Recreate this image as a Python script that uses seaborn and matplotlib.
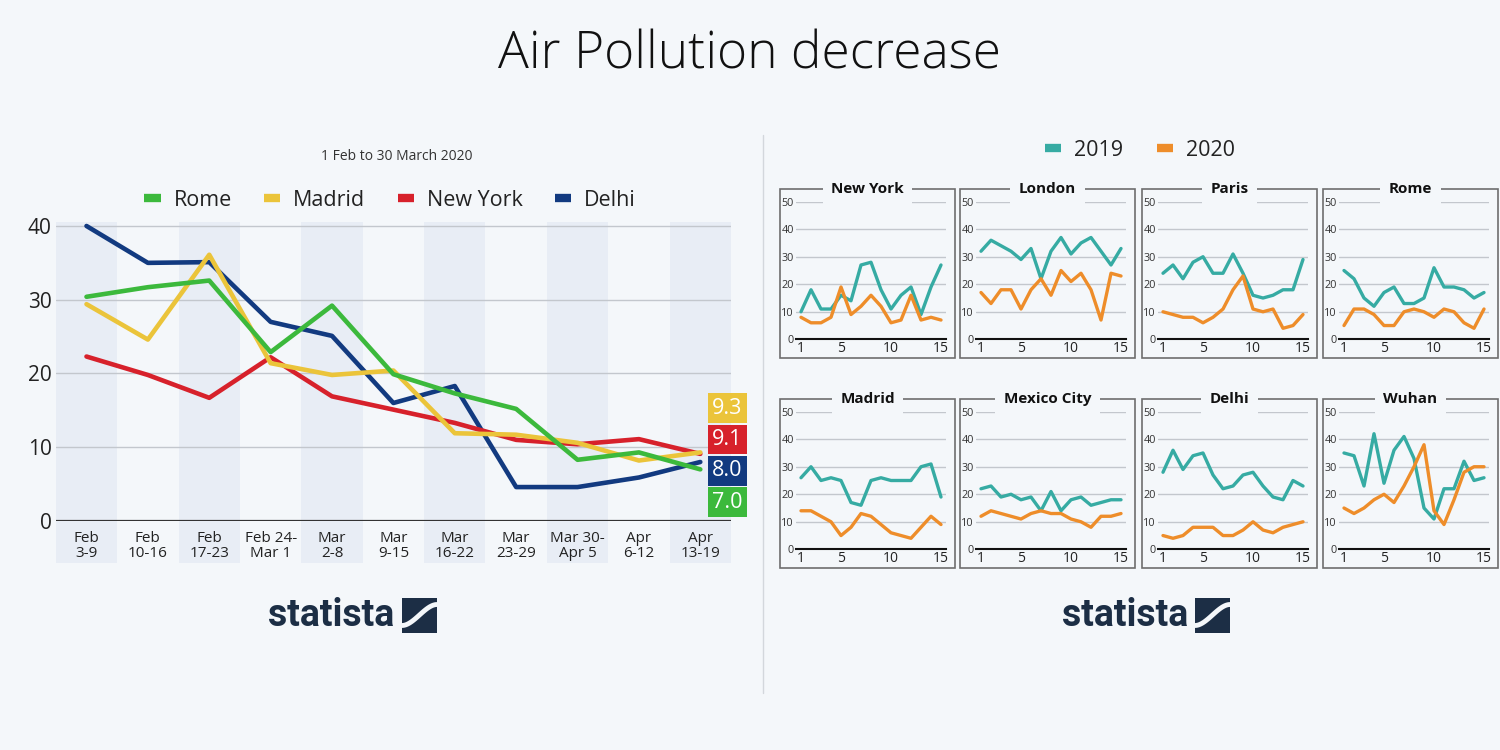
import matplotlib.pyplot as plt
import matplotlib.patches as mpatches
from matplotlib.lines import Line2D
import seaborn as sns
import pandas as pd
import numpy as np

# ---- left chart: weekly values ----
weeks = ["Feb\n3-9", "Feb\n10-16", "Feb\n17-23", "Feb 24-\nMar 1", "Mar\n2-8", "Mar\n9-15",
         "Mar\n16-22", "Mar\n23-29", "Mar 30-\nApr 5", "Apr\n6-12", "Apr\n13-19"]
rome = [30.4, 31.7, 32.6, 22.9, 29.2, 19.9, 17.3, 15.2, 8.3, 9.3, 7.0]
madrid = [29.4, 24.6, 36.1, 21.4, 19.8, 20.4, 11.9, 11.7, 10.6, 8.2, 9.3]
new_york = [22.3, 19.8, 16.7, 22.2, 16.9, 15.1, 13.3, 11.0, 10.4, 11.1, 9.1]
delhi = [40.0, 35.0, 35.1, 27.0, 25.1, 16.0, 18.3, 4.6, 4.6, 5.9, 8.0]
left_names = ["Rome", "Madrid", "New York", "Delhi"]

# ---- right panels: daily values, 2019 vs 2020 ----
days = list(range(1, 16))
panel_names = ["New York", "London", "Paris", "Rome", "Madrid", "Mexico City", "Delhi", "Wuhan"]
ny_2019 = [10, 18, 11, 11, 16, 14, 27, 28, 18, 11, 16, 19, 9, 19, 27]
ny_2020 = [8, 6, 6, 8, 19, 9, 12, 16, 12, 6, 7, 16, 7, 8, 7]
london_2019 = [32, 36, 34, 32, 29, 33, 22, 32, 37, 31, 35, 37, 32, 27, 33]
london_2020 = [17, 13, 18, 18, 11, 18, 22, 16, 25, 21, 24, 18, 7, 24, 23]
paris_2019 = [24, 27, 22, 28, 30, 24, 24, 31, 24, 16, 15, 16, 18, 18, 29]
paris_2020 = [10, 9, 8, 8, 6, 8, 11, 18, 23, 11, 10, 11, 4, 5, 9]
rome_2019 = [25, 22, 15, 12, 17, 19, 13, 13, 15, 26, 19, 19, 18, 15, 17]
rome_2020 = [5, 11, 11, 9, 5, 5, 10, 11, 10, 8, 11, 10, 6, 4, 11]
madrid_2019 = [26, 30, 25, 26, 25, 17, 16, 25, 26, 25, 25, 25, 30, 31, 19]
madrid_2020 = [14, 14, 12, 10, 5, 8, 13, 12, 9, 6, 5, 4, 8, 12, 9]
mexico_2019 = [22, 23, 19, 20, 18, 19, 14, 21, 14, 18, 19, 16, 17, 18, 18]
mexico_2020 = [12, 14, 13, 12, 11, 13, 14, 13, 13, 11, 10, 8, 12, 12, 13]
delhi_2019 = [28, 36, 29, 34, 35, 27, 22, 23, 27, 28, 23, 19, 18, 25, 23]
delhi_2020 = [5, 4, 5, 8, 8, 8, 5, 5, 7, 10, 7, 6, 8, 9, 10]
wuhan_2019 = [35, 34, 23, 42, 24, 36, 41, 33, 15, 11, 22, 22, 32, 25, 26]
wuhan_2020 = [15, 13, 15, 18, 20, 17, 23, 30, 38, 14, 9, 18, 28, 30, 30]

BG = "#f4f7fa"
BAND = "#e8edf5"
NAVY = "#1c2e45"
city_colors = {"Rome": "#3cb93c", "Madrid": "#ebc43a", "New York": "#d7212b", "Delhi": "#123a80"}
year_colors = {"2019": "#36aba3", "2020": "#ee8d2a"}

sns.set_theme(style="white")
plt.rcParams["font.family"] = ["Open Sans", "DejaVu Sans"]
plt.rcParams["lines.solid_joinstyle"] = "round"
plt.rcParams["lines.solid_capstyle"] = "round"

W, H = 1500, 750
fig = plt.figure(figsize=(15, 7.5), dpi=100, facecolor=BG)


def fig_rect(x0, y_top, w, h):
    # pixel box (top-left origin) -> figure fraction rect
    return [x0 / W, 1 - (y_top + h) / H, w / W, h / H]


fig.text(0.5, 1 - 55 / H, "Air Pollution decrease", ha="center", va="center",
         fontsize=37, fontweight="light", color="#111111")

# ---------------- left chart ----------------
left_df = pd.DataFrame(
    [(name, i, v) for name, vals in zip(left_names, [rome, madrid, new_york, delhi])
     for i, v in enumerate(vals)],
    columns=["city", "week", "value"])

ax = fig.add_axes(fig_rect(55.8, 222, 675.2, 299))
ax.set_facecolor(BG)
ax.set_xlim(-0.5, len(weeks) - 0.5)
ax.set_ylim(0, 40.54)
for i in range(0, len(weeks), 2):
    ax.axvspan(i - 0.5, i + 0.5, ymin=-0.1405, ymax=1, color=BAND, lw=0, zorder=0, clip_on=False)
ax.set_yticks([0, 10, 20, 30, 40])
ax.grid(axis="y", color="#c3c7cd", lw=1)
ax.grid(axis="x", visible=False)
ax.axhline(0, color="#333333", lw=1.6, zorder=2)
sns.despine(ax=ax, left=True, bottom=True)

sns.lineplot(data=left_df, x="week", y="value", hue="city",
             hue_order=["Delhi", "New York", "Madrid", "Rome"], palette=city_colors,
             linewidth=3.3, legend=False, ax=ax, zorder=3)
ax.set_xlabel("")
ax.set_ylabel("")
ax.set_xticks(range(len(weeks)))
ax.set_xticklabels(weeks, fontsize=11, linespacing=1.05, color="#222222")
ax.tick_params(axis="x", length=0, pad=7)
ax.tick_params(axis="y", length=0, pad=3, labelsize=15, labelcolor="#222222")

# end-value tags, stacked from highest to lowest
last = sorted([(vals[-1], name) for name, vals in
               zip(left_names, [rome, madrid, new_york, delhi])], reverse=True)
tag_top, tag_step = 15.3, 4.25
for k, (v, name) in enumerate(last):
    ax.text(len(weeks) - 0.56, tag_top - k * tag_step, f"{v:.1f}", color="white",
            fontsize=15.5, ha="center", va="center", clip_on=False, zorder=5,
            bbox=dict(boxstyle="square,pad=0.2", fc=city_colors[name], ec="none"))

fig.text(397 / W, 1 - 157 / H, "1 Feb to 30 March 2020", ha="center", va="center",
         fontsize=10, color="#333333")
left_handles = [Line2D([0], [0], color=city_colors[n], lw=6, solid_capstyle="butt")
                for n in left_names]
leg = fig.legend(left_handles, left_names, loc="center", bbox_to_anchor=(390 / W, 1 - 200 / H),
                 ncol=4, frameon=False, fontsize=15.5, handlelength=0.75,
                 handletextpad=0.6, columnspacing=1.5)
for t in leg.get_texts():
    t.set_color("#222222")

# divider
fig.add_artist(Line2D([763 / W, 763 / W], [1 - 135 / H, 1 - 693 / H],
                      transform=fig.transFigure, color="#d3d7dc", lw=1))

# ---------------- right small multiples ----------------
panel_data = [(ny_2019, ny_2020), (london_2019, london_2020), (paris_2019, paris_2020),
              (rome_2019, rome_2020), (madrid_2019, madrid_2020), (mexico_2019, mexico_2020),
              (delhi_2019, delhi_2020), (wuhan_2019, wuhan_2020)]
box_lefts = [780, 960, 1142, 1323]
box_tops = [189, 399]
box_w, box_h = 175, 169

for idx, (name, (v19, v20)) in enumerate(zip(panel_names, panel_data)):
    r, c = divmod(idx, 4)
    bl, bt = box_lefts[c], box_tops[r]
    fig.add_artist(mpatches.Rectangle(((bl) / W, 1 - (bt + box_h) / H), box_w / W, box_h / H,
                                      transform=fig.transFigure, fill=False,
                                      ec="#6e6e6e", lw=1.2, zorder=1))
    d = pd.DataFrame({"day": days * 2, "value": v19 + v20,
                      "year": ["2019"] * len(days) + ["2020"] * len(days)})
    pax = fig.add_axes(fig_rect(bl + 16, bt + 12.7, 150, 137.6))
    pax.set_facecolor(BG)
    sns.lineplot(data=d, x="day", y="value", hue="year", hue_order=["2019", "2020"],
                 palette=year_colors, linewidth=2.4, legend=False, ax=pax, zorder=3)
    pax.set_xlim(0.5, 15.5)
    pax.set_ylim(0, 50)
    pax.set_xlabel("")
    pax.set_ylabel("")
    pax.set_yticks([0, 10, 20, 30, 40, 50])
    pax.set_xticks([1, 5, 10, 15])
    pax.grid(axis="y", color="#c3c7cd", lw=1)
    pax.grid(axis="x", visible=False)
    sns.despine(ax=pax, left=True)
    pax.spines["bottom"].set_color("#111111")
    pax.spines["bottom"].set_linewidth(1.5)
    pax.tick_params(axis="y", length=0, pad=1.5, labelsize=7.8, labelcolor="#333333")
    pax.tick_params(axis="x", length=0, pad=1.5, labelsize=10, labelcolor="#222222")
    fig.text((bl + box_w / 2) / W, 1 - bt / H, name, ha="center", va="center",
             fontsize=11, fontweight="bold", color="#111111", zorder=4,
             bbox=dict(boxstyle="square,pad=0.55", fc=BG, ec="none"))

right_handles = [Line2D([0], [0], color=year_colors[y], lw=6, solid_capstyle="butt")
                 for y in ["2019", "2020"]]
leg2 = fig.legend(right_handles, ["2019", "2020"], loc="center",
                  bbox_to_anchor=(1140 / W, 1 - 150 / H), ncol=2, frameon=False,
                  fontsize=15.5, handlelength=0.75, handletextpad=0.6, columnspacing=1.6)
for t in leg2.get_texts():
    t.set_color("#222222")


# ---------------- statista logos ----------------
def draw_logo(x_text, x_icon, y_mid):
    fig.text(x_text / W, 1 - y_mid / H, "statista", ha="left", va="center",
             fontsize=27, fontweight="bold", color=NAVY,
             family=["Roboto", "DejaVu Sans"])
    s = 35
    fig.add_artist(mpatches.Rectangle((x_icon / W, 1 - (y_mid + s / 2) / H), s / W, s / H,
                                      transform=fig.transFigure, fc=NAVY, ec="none"))
    t = np.linspace(0, 1, 30)
    xs = x_icon + t * s
    ys = (y_mid + s / 2) - s * (0.2 + 0.6 * (3 * t ** 2 - 2 * t ** 3))
    fig.add_artist(Line2D(xs / W, 1 - ys / H, transform=fig.transFigure,
                          color=BG, lw=3.5))


draw_logo(268, 402, 615)
draw_logo(1062, 1195, 615)

fig.savefig("out.png", dpi=100, facecolor=BG)
